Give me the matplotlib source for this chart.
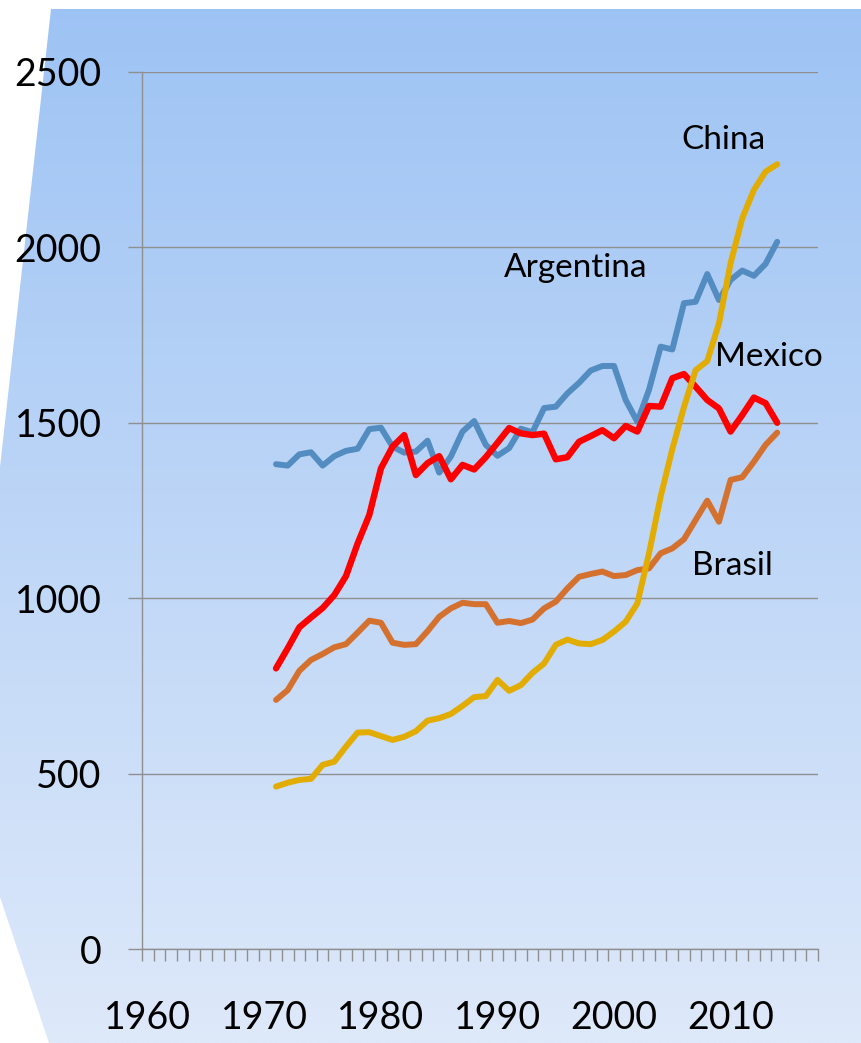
#!/usr/bin/env python3
"""
Energy use per capita, four countries, 1971-2014.

Line chart in the style of an Excel slide: blue gradient background,
category x axis (1960..2017) and direct labels next to each line.
"""

import matplotlib
matplotlib.use("Agg")
import matplotlib.pyplot as plt
import numpy as np
from matplotlib.patches import Polygon
from matplotlib.ticker import FixedLocator, NullFormatter

# Data
YEARS = list(range(1971, 2015))

ARGENTINA = [1382, 1378, 1410, 1416, 1378, 1405, 1420, 1426, 1482, 1486,
             1432, 1415, 1418, 1449, 1358, 1404, 1475, 1505, 1437, 1406,
             1428, 1483, 1473, 1542, 1546, 1584, 1614, 1649, 1662, 1662,
             1565, 1503, 1594, 1717, 1709, 1841, 1845, 1924, 1850, 1907,
             1934, 1919, 1953, 2016]

MEXICO = [800, 857, 917, 945, 972, 1009, 1063, 1156, 1237, 1370,
          1432, 1465, 1351, 1385, 1405, 1339, 1380, 1367, 1402, 1443,
          1485, 1470, 1465, 1469, 1396, 1402, 1446, 1462, 1479, 1456,
          1491, 1475, 1548, 1546, 1627, 1639, 1603, 1565, 1541, 1475,
          1522, 1572, 1556, 1500]

BRASIL = [710, 738, 793, 824, 841, 860, 869, 902, 936, 930,
          873, 867, 869, 906, 947, 971, 987, 983, 983, 930,
          935, 929, 939, 971, 990, 1028, 1061, 1069, 1076, 1063,
          1066, 1080, 1085, 1128, 1142, 1168, 1223, 1278, 1218, 1337,
          1345, 1389, 1437, 1472]

CHINA = [463, 474, 482, 485, 525, 534, 577, 617, 618, 607,
         596, 605, 621, 651, 658, 670, 693, 718, 721, 767,
         736, 752, 787, 814, 867, 882, 871, 869, 881, 905,
         933, 985, 1128, 1290, 1425, 1545, 1650, 1676, 1783, 1955,
         2083, 2164, 2216, 2237]

# Category axis: one slot per year, labels every ten years
FIRST_YEAR, LAST_YEAR = 1960, 2017
LABEL_YEARS = [1960, 1970, 1980, 1990, 2000, 2010]
Y_TICKS = [0, 500, 1000, 1500, 2000, 2500]

# Figure geometry (pixels of the 861x1043 picture)
W, H = 861, 1043
DPI = 100
FONT = ["Lato", "DejaVu Sans"]
GRID = "#8f8f8f"


def draw_background(fig):
    """Blue vertical gradient cut to the slanted slide shape."""
    bg = fig.add_axes([0, 0, 1, 1], zorder=-10)
    bg.set_xlim(0, W)
    bg.set_ylim(H, 0)
    bg.axis("off")

    top = np.array([157, 195, 244]) / 255
    bottom = np.array([222, 233, 250]) / 255
    t = np.linspace(0, 1, 256)[:, None]
    grad = (top + (bottom - top) * t)[:, None, :]
    img = bg.imshow(grad, extent=[0, W, H, 0], aspect="auto", interpolation="bilinear")

    shape = Polygon([(51, 9), (W, 9), (W, H), (49, H), (0, 897), (0, 467)],
                    closed=True, transform=bg.transData, facecolor="none", edgecolor="none")
    bg.add_patch(shape)
    img.set_clip_path(shape)


def main():
    plt.rcParams["font.family"] = FONT

    fig = plt.figure(figsize=(W / DPI, H / DPI), dpi=DPI)
    draw_background(fig)

    ax = fig.add_axes([142 / W, (H - 949) / H, 676 / W, 877 / H])
    ax.set_facecolor("none")

    # Series (China drawn last, on top)
    ax.plot(YEARS, ARGENTINA, color="#528cc0", lw=4.3, solid_joinstyle="round",
            solid_capstyle="round", zorder=3)
    ax.plot(YEARS, BRASIL, color="#d5712e", lw=4.3, solid_joinstyle="round",
            solid_capstyle="round", zorder=3)
    ax.plot(YEARS, MEXICO, color="#ff0000", lw=4.6, solid_joinstyle="round",
            solid_capstyle="round", zorder=4)
    ax.plot(YEARS, CHINA, color="#e2ac00", lw=4.3, solid_joinstyle="round",
            solid_capstyle="round", zorder=5)

    # Direct labels
    label_kw = dict(fontsize=24, ha="center", va="center", color="black")
    ax.text(2009.4, 2306, "China", **label_kw)
    ax.text(1996.7, 1941, "Argentina", **label_kw)
    ax.text(2013.3, 1688, "Mexico", **label_kw)
    ax.text(2010.2, 1092, "Brasil", **label_kw)

    # Axes limits
    ax.set_xlim(FIRST_YEAR - 0.5, LAST_YEAR + 0.5)
    ax.set_ylim(0, 2500)

    # y axis: gridlines with outward ticks
    ax.set_yticks(Y_TICKS)
    ax.grid(True, axis="y", color=GRID, lw=1.0)
    ax.tick_params(axis="y", which="major", direction="out", length=10, width=1.0,
                   color=GRID, pad=19, labelsize=27)

    # x axis: ticks between categories, labels under every tenth year
    boundaries = [y - 0.5 for y in range(FIRST_YEAR, LAST_YEAR + 2)]
    ax.xaxis.set_major_locator(FixedLocator(boundaries))
    ax.xaxis.set_major_formatter(NullFormatter())
    ax.xaxis.set_minor_locator(FixedLocator(LABEL_YEARS))
    ax.set_xticklabels([str(y) for y in LABEL_YEARS], minor=True)
    ax.tick_params(axis="x", which="major", direction="out", length=8.5, width=1.0,
                   color=GRID)
    ax.tick_params(axis="x", which="minor", length=0, pad=37, labelsize=27)

    for side in ("top", "right"):
        ax.spines[side].set_visible(False)
    for side in ("left", "bottom"):
        ax.spines[side].set_color(GRID)
        ax.spines[side].set_linewidth(1.0)

    fig.savefig("out.png", dpi=DPI)


if __name__ == "__main__":
    main()
